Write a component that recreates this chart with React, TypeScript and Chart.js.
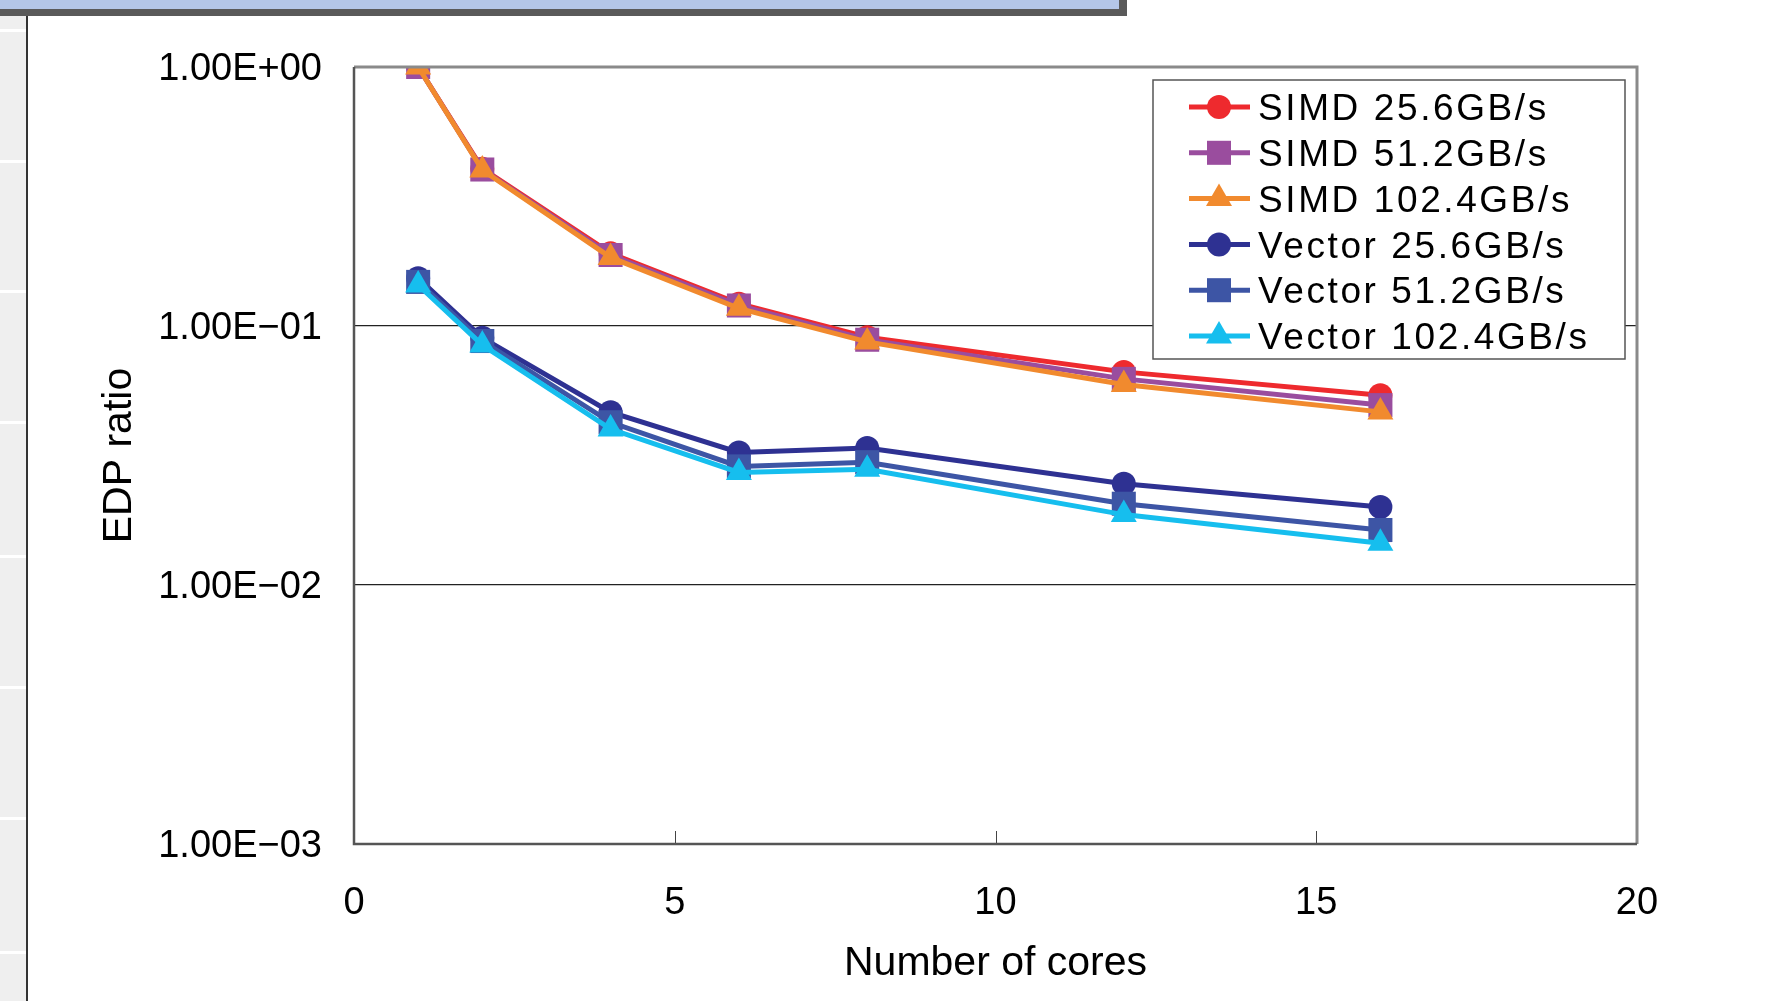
import React, { useEffect, useRef } from "react";
import { Chart, registerables } from "chart.js";

Chart.register(...registerables);

const cores = [1, 2, 4, 6, 8, 12, 16];
const simd256 = [1.0, 0.405, 0.191, 0.122, 0.0905, 0.0665, 0.054];
const simd512 = [1.0, 0.402, 0.188, 0.12, 0.0885, 0.0625, 0.0495];
const simd1024 = [1.0, 0.4, 0.184, 0.117, 0.0868, 0.0595, 0.0466];
const vec256 = [0.153, 0.09, 0.0465, 0.0325, 0.0338, 0.0246, 0.02];
const vec512 = [0.148, 0.0875, 0.0425, 0.0287, 0.0298, 0.0206, 0.0163];
const vec1024 = [0.144, 0.0845, 0.04, 0.0272, 0.028, 0.0187, 0.0145];

const seriesNames = [
  "SIMD 25.6GB/s",
  "SIMD 51.2GB/s",
  "SIMD 102.4GB/s",
  "Vector 25.6GB/s",
  "Vector 51.2GB/s",
  "Vector 102.4GB/s",
];
const seriesValues = [simd256, simd512, simd1024, vec256, vec512, vec1024];
const seriesColors = ["#EE2A2E", "#9A4D9E", "#F18A2E", "#2E3192", "#3D55A5", "#16BEEE"];
const seriesMarkers = ["circle", "rect", "triangle", "circle", "rect", "triangle"];
const markerRadius: Record<string, number> = { circle: 12, rect: 17, triangle: 15 };

const yTicks = [0.001, 0.01, 0.1, 1];
const xTicks = [0, 5, 10, 15, 20];

const FONT = '"Liberation Sans", Arial, sans-serif';

function fmtExp(v: number) {
  const e = Math.round(Math.log10(v));
  const sign = e < 0 ? "\u2212" : "+";
  const abs = Math.abs(e).toString().padStart(2, "0");
  return "1.00E" + sign + abs;
}

function drawMarker(ctx: CanvasRenderingContext2D, style: string, x: number, y: number, r: number) {
  ctx.beginPath();
  if (style === "circle") {
    ctx.arc(x, y, r, 0, Math.PI * 2);
  } else if (style === "rect") {
    const s = Math.SQRT1_2 * r;
    ctx.rect(x - s, y - s, 2 * s, 2 * s);
  } else {
    let rad = 0;
    ctx.moveTo(x + Math.sin(rad) * r, y - Math.cos(rad) * r);
    rad += (2 * Math.PI) / 3;
    ctx.lineTo(x + Math.sin(rad) * r, y - Math.cos(rad) * r);
    rad += (2 * Math.PI) / 3;
    ctx.lineTo(x + Math.sin(rad) * r, y - Math.cos(rad) * r);
    ctx.closePath();
  }
  ctx.fill();
}

const framePlugin = {
  id: "frame",
  afterDatasetsDraw(chart: any) {
    const { ctx, chartArea } = chart;
    const { left, right, top, bottom } = chartArea;
    ctx.save();
    const xs = chart.scales.x;
    ctx.strokeStyle = "#444";
    ctx.lineWidth = 1;
    [5, 10, 15].forEach((v) => {
      const px = Math.round(xs.getPixelForValue(v)) + 0.5;
      ctx.beginPath();
      ctx.moveTo(px, bottom);
      ctx.lineTo(px, bottom - 13);
      ctx.stroke();
    });
    ctx.strokeStyle = "#8a8a8a";
    ctx.lineWidth = 3;
    ctx.beginPath();
    ctx.moveTo(left, top);
    ctx.lineTo(right, top);
    ctx.lineTo(right, bottom);
    ctx.stroke();
    ctx.strokeStyle = "#555";
    ctx.lineWidth = 2.5;
    ctx.beginPath();
    ctx.moveTo(left, top);
    ctx.lineTo(left, bottom);
    ctx.lineTo(right, bottom);
    ctx.stroke();
    ctx.restore();
  },
  afterDraw(chart: any) {
    const { ctx } = chart;
    const bx = 1153, by = 80, bw = 472, bh = 279;
    ctx.save();
    ctx.fillStyle = "#fff";
    ctx.fillRect(bx, by, bw, bh);
    ctx.strokeStyle = "#555";
    ctx.lineWidth = 1.5;
    ctx.strokeRect(bx, by, bw, bh);
    chart.data.datasets.forEach((ds: any, i: number) => {
      const cy = by + 27 + i * 45.8;
      ctx.strokeStyle = ds.borderColor;
      ctx.lineWidth = 5;
      ctx.beginPath();
      ctx.moveTo(1189, cy);
      ctx.lineTo(1250, cy);
      ctx.stroke();
      ctx.fillStyle = ds.borderColor;
      drawMarker(ctx, ds.pointStyle, 1219, cy, ds.pointRadius);
      ctx.fillStyle = "#000";
      ctx.font = "37px " + FONT;
      (ctx as any).letterSpacing = "2.6px";
      ctx.textBaseline = "middle";
      ctx.textAlign = "left";
      ctx.fillText(ds.label, 1258, cy + 3);
      (ctx as any).letterSpacing = "0px";
    });
    ctx.restore();
  },
};

export default function App() {
  const ref = useRef<HTMLCanvasElement | null>(null);
  useEffect(() => {
    if (!ref.current) return;
    const datasets = seriesNames.map((name, i) => ({
      label: name,
      data: cores.map((c, j) => ({ x: c, y: seriesValues[i][j] })),
      borderColor: seriesColors[i],
      backgroundColor: seriesColors[i],
      borderWidth: 5,
      pointStyle: seriesMarkers[i],
      pointRadius: markerRadius[seriesMarkers[i]],
      pointBorderWidth: 0,
      pointHoverRadius: markerRadius[seriesMarkers[i]],
      order: 6 - i,
      tension: 0,
    }));
    const chart = new Chart(ref.current, {
      type: "line",
      data: { datasets },
      plugins: [framePlugin],
      options: {
        animation: false,
        responsive: false,
        maintainAspectRatio: false,
        layout: { padding: { left: 95, top: 67, right: 137, bottom: 13 } },
        plugins: { legend: { display: false }, tooltip: { enabled: false } },
        scales: {
          x: {
            type: "linear",
            min: 0,
            max: 20,
            afterBuildTicks: (s: any) => {
              s.ticks = xTicks.map((v) => ({ value: v }));
            },
            afterFit: (s: any) => {
              s.height = 144;
            },
            grid: { display: false, drawTicks: false },
            border: { display: false },
            ticks: {
              padding: 37,
              color: "#000",
              font: { family: FONT, size: 38 },
              maxRotation: 0,
            },
            title: {
              display: true,
              text: "Number of cores",
              color: "#000",
              font: { family: FONT, size: 41 },
              padding: 0,
            },
          },
          y: {
            type: "logarithmic",
            min: 0.001,
            max: 1,
            afterBuildTicks: (s: any) => {
              s.ticks = yTicks.map((v) => ({ value: v, major: true }));
            },
            afterFit: (s: any) => {
              s.width = 259;
            },
            grid: { color: "#222", lineWidth: 1.2, drawTicks: false },
            border: { display: false },
            ticks: {
              padding: 32,
              labelOffset: 3,
              color: "#000",
              font: { family: FONT, size: 38 },
              callback: (v: any) => fmtExp(Number(v)),
            },
            title: {
              display: true,
              text: "EDP ratio",
              color: "#000",
              font: { family: FONT, size: 41 },
              padding: 0,
            },
          },
        },
      } as any,
    });
    return () => chart.destroy();
  }, []);

  const stripes = [29, 160, 290, 421, 555, 686, 817, 951];
  return (
    <div style={{ position: "fixed", left: 0, top: 0, width: 1774, height: 1001, background: "#fff", overflow: "hidden" }}>
      <div style={{ position: "absolute", left: 0, top: 0, width: 1127, height: 16, background: "#5a5a5a" }} />
      <div style={{ position: "absolute", left: 0, top: 0, width: 1119, height: 9, background: "#b4c6e7" }} />
      <div style={{ position: "absolute", left: 0, top: 16, width: 26, height: 985, background: "#efefef" }} />
      {stripes.map((y) => (
        <div key={y} style={{ position: "absolute", left: 0, top: y, width: 26, height: 3, background: "#fff" }} />
      ))}
      <div style={{ position: "absolute", left: 26, top: 16, width: 2, height: 985, background: "#333" }} />
      <canvas ref={ref} width={1774} height={1001} style={{ position: "absolute", left: 0, top: 0, width: 1774, height: 1001 }} />
    </div>
  );
}
